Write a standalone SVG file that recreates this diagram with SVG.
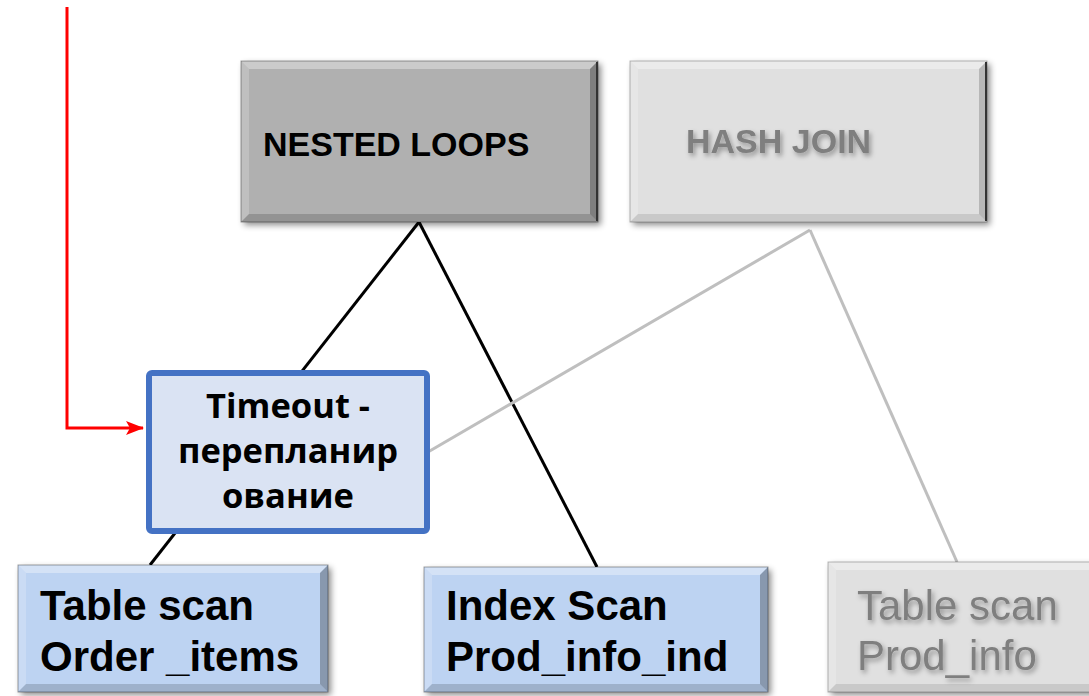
<svg xmlns="http://www.w3.org/2000/svg" width="1089" height="696" viewBox="0 0 1089 696">
<defs>
<filter id="sh" x="-10%" y="-10%" width="130%" height="130%"><feDropShadow dx="3" dy="3" stdDeviation="3" flood-color="#000" flood-opacity="0.45"/></filter>
<filter id="tsh" x="-10%" y="-30%" width="130%" height="170%"><feDropShadow dx="2" dy="3" stdDeviation="2.5" flood-color="#000" flood-opacity="0.35"/></filter>
<marker id="arr" markerWidth="18" markerHeight="16" refX="17" refY="8" orient="auto" markerUnits="userSpaceOnUse" viewBox="0 0 18 16"><path d="M0,1 L18,8 L0,15 L4,8 Z" fill="#ff0000"/></marker>
<style>
.lt{fill:#fff;opacity:.35}
.ll{fill:#fff;opacity:.2}
.dr{fill:#000;opacity:.28}
.db{fill:#000;opacity:.16}
.edge{fill:none;stroke:#000;stroke-opacity:.35;stroke-width:1}
.re{stroke:#333;stroke-width:2}
.ar{font-family:"Liberation Sans",Arial,sans-serif;font-weight:bold}
.gt{font-family:"Liberation Sans",Arial,sans-serif;fill:#7f7f7f}
.to{font-family:"Open Sans","Noto Sans",sans-serif;font-weight:bold;font-size:34.5px;fill:#000;text-anchor:middle}
</style>
</defs>
<rect width="1089" height="696" fill="#fff"/>
<g id="connectors" fill="none">
<line x1="419" y1="222" x2="150" y2="565" stroke="#000" stroke-width="3"/>
<line x1="419" y1="222" x2="597" y2="567" stroke="#000" stroke-width="3"/>
<line x1="810" y1="230" x2="428" y2="452" stroke="#bfbfbf" stroke-width="3"/>
<line x1="810" y1="230" x2="957" y2="562" stroke="#bfbfbf" stroke-width="3"/>
<polyline points="67,7 67,428 143,428" stroke="#ff0000" stroke-width="3" marker-end="url(#arr)"/>
</g>
<g id="nested-loops">
<g filter="url(#sh)"><rect x="241" y="61" width="357" height="161" fill="#b0b0b0"/></g>
<polygon class="lt" points="241,61 598,61 590,69 249,69"/>
<polygon class="ll" points="241,61 249,69 249,214 241,222"/>
<polygon class="dr" points="598,61 598,222 590,214 590,69"/>
<polygon class="db" points="241,222 249,214 590,214 598,222"/>
<rect class="edge" x="241" y="61" width="357" height="161"/>
<line class="re" x1="597" y1="62" x2="597" y2="221"/>
<text class="ar" x="263" y="156" font-size="34" fill="#000">NESTED LOOPS</text>
</g>
<g id="hash-join">
<g filter="url(#sh)"><rect x="630" y="61" width="357" height="161" fill="#e0e0e0"/></g>
<polygon class="lt" points="630,61 987,61 979,69 638,69"/>
<polygon class="ll" points="630,61 638,69 638,214 630,222"/>
<polygon class="dr" points="987,61 987,222 979,214 979,69" style="opacity:.18"/>
<polygon class="db" points="630,222 638,214 979,214 987,222" style="opacity:.1"/>
<rect class="edge" x="630" y="61" width="357" height="161" style="stroke-opacity:.25"/>
<line class="re" x1="986" y1="62" x2="986" y2="221"/>
<text class="gt" x="686" y="153" font-size="34" font-weight="bold" filter="url(#tsh)">HASH JOIN</text>
</g>
<g id="timeout">
<rect x="149" y="373" width="278" height="158" rx="3" fill="#dae3f3" stroke="#4472c4" stroke-width="6"/>
<text class="to" x="288" y="418">Timeout -</text>
<text class="to" x="288" y="463">перепланир</text>
<text class="to" x="288" y="508">ование</text>
</g>
<g id="table-scan-order">
<g filter="url(#sh)"><rect x="18" y="565" width="310" height="127" fill="#bdd3f2"/></g>
<polygon class="lt" points="18,565 328,565 320,573 26,573"/>
<polygon class="ll" points="18,565 26,573 26,684 18,692"/>
<polygon class="dr" points="328,565 328,692 320,684 320,573"/>
<polygon class="db" points="18,692 26,684 320,684 328,692"/>
<rect class="edge" x="18" y="565" width="310" height="127"/>
<text class="ar" x="40" y="620" font-size="42" fill="#000">Table scan</text>
<text class="ar" x="40" y="671" font-size="42" fill="#000">Order _items</text>
</g>
<g id="index-scan">
<g filter="url(#sh)"><rect x="424" y="567" width="344" height="125" fill="#bdd3f2"/></g>
<polygon class="lt" points="424,567 768,567 760,575 432,575"/>
<polygon class="ll" points="424,567 432,575 432,684 424,692"/>
<polygon class="dr" points="768,567 768,692 760,684 760,575"/>
<polygon class="db" points="424,692 432,684 760,684 768,692"/>
<rect class="edge" x="424" y="567" width="344" height="125"/>
<text class="ar" x="446" y="620" font-size="42" fill="#000">Index Scan</text>
<text class="ar" x="446" y="671" font-size="42" fill="#000">Prod_info_ind</text>
</g>
<g id="table-scan-prod">
<g filter="url(#sh)"><rect x="828" y="562" width="270" height="130" fill="#e0e0e0"/></g>
<polygon class="lt" points="828,562 1098,562 1090,570 836,570"/>
<polygon class="ll" points="828,562 836,570 836,684 828,692"/>
<polygon class="db" points="828,692 836,684 1090,684 1098,692" style="opacity:.1"/>
<rect class="edge" x="828" y="562" width="270" height="130" style="stroke-opacity:.25"/>
<text class="gt" x="857" y="620" font-size="42" filter="url(#tsh)">Table scan</text>
<text class="gt" x="857" y="670" font-size="42" filter="url(#tsh)">Prod_info</text>
</g>
</svg>
